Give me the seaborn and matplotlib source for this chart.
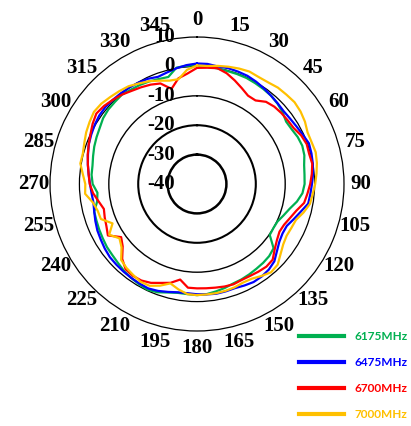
import numpy as np
import pandas as pd
import matplotlib
matplotlib.use("Agg")
import matplotlib.pyplot as plt
import matplotlib.transforms as mtransforms
from matplotlib.lines import Line2D
import seaborn as sns

# Measured radiation pattern (dB) every 5 degrees, 0..355
angles_deg = list(range(0, 360, 5))

gain_6175 = [0.3, 0.2, -0.1, -0.2, -0.2, -0.2, -0.4, -0.6, -0.8, -1.3,
             -2.0, -3.0, -2.8, -2.2, -1.9, -2.2, -3.0, -3.3, -3.4, -4.0,
             -5.5, -7.4, -8.7, -9.8, -10.0, -9.8, -6.0, -5.3, -5.0, -4.8,
             -4.5, -4.2, -4.0, -3.4, -2.9, -2.4, -2.2, -2.4, -2.4, -1.8,
             -0.8, -0.3, -0.6, -1.0, -1.4, -2.0, -2.4, -2.6, -3.0, -3.3,
             -3.6, -3.8, -5.5, -6.0, -4.5, -4.0, -3.9, -3.4, -2.8, -2.3,
             -1.8, -1.0, -0.6, -0.5, -0.3, -0.8, -1.1, -1.5, -2.0, -2.3,
             0.2, 0.4]

gain_6475 = [1.0, 1.0, 0.6, 0.8, 0.7, 0.6, 0.2, -0.3, -0.8, -1.2,
             -1.5, -1.3, -0.9, -0.3, 0.5, 0.3, 0.0, -0.4, -0.9, -1.3,
             -1.6, -3.5, -5.0, -6.3, -6.4, -5.8, -4.5, -2.8, -2.0, -1.6,
             -1.5, -1.9, -2.3, -2.2, -2.1, -2.3, -2.5, -2.7, -2.6, -2.0,
             -1.3, -0.8, -0.9, -1.0, -1.1, -1.2, -1.3, -1.7, -2.2, -2.6,
             -3.2, -3.8, -4.2, -4.0, -3.6, -3.0, -2.3, -1.6, -0.8, -0.3,
             0.2, 0.6, 0.7, 0.5, 0.3, 0.1, -0.2, -0.5, -1.2, -0.7,
             0.0, 0.6]

gain_6700 = [-0.5, -0.3, 0.0, -1.0, -2.5, -4.0, -5.3, -5.3, -3.5, -2.8,
             -2.5, -2.3, -2.0, -0.9, -0.3, -0.5, -0.2, -0.8, -1.5, -2.3,
             -3.0, -5.0, -6.3, -7.3, -7.6, -6.8, -5.5, -3.6, -3.3, -3.6,
             -3.9, -4.0, -3.7, -3.9, -4.2, -4.4, -4.5, -4.6, -7.0, -5.2,
             -4.2, -2.9, -2.1, -1.9, -2.2, -4.0, -7.0, -8.5, -5.0, -6.0,
             -6.6, -7.2, -6.0, -4.5, -3.5, -3.0, -2.3, -1.5, -0.8, 0.0,
             1.0, 1.8, 1.3, 0.5, -0.3, -1.3, -2.0, -2.7, -3.6, -6.5,
             -3.5, -2.3]

gain_7000 = [0.3, 0.3, 0.8, 1.3, 1.8, 2.2, 2.0, 2.2, 2.8, 3.0,
             3.3, 3.0, 2.4, 1.5, 1.5, 1.8, 1.4, 0.8, 0.2, -0.5,
             -1.0, -2.5, -4.2, -4.6, -4.8, -4.2, -2.9, -1.2, -0.8, -1.8,
             -2.8, -3.0, -2.6, -2.4, -2.3, -2.3, -2.2, -2.4, -3.6, -5.0,
             -3.2, -1.8, -1.6, -2.2, -2.7, -3.5, -6.5, -7.8, -5.5, -8.3,
             -5.2, -5.0, -4.0, -1.8, -2.0, -1.0, 0.3, 0.2, 0.8, 1.6,
             2.2, 2.8, 2.5, 1.8, 1.2, 0.6, -0.5, -1.4, -2.6, -3.6,
             -3.8, -1.0]

freq_labels = ["6175MHz", "6475MHz", "6700MHz", "7000MHz"]
line_colors = ["#00B050", "#0000FF", "#FF0000", "#FFC000"]
r_ticks = [-40, -30, -20, -10, 0, 10]
theta_ticks = list(range(0, 360, 15))

# Long-form table, each trace closed back on its first sample
rows = []
for label, gains in zip(freq_labels, [gain_6175, gain_6475, gain_6700, gain_7000]):
    for a, g in zip(angles_deg + [360], gains + gains[:1]):
        rows.append((np.deg2rad(a), g, label))
df = pd.DataFrame(rows, columns=["theta", "gain", "freq"])

fig = plt.figure(figsize=(4.11, 4.26), dpi=100)
ax = fig.add_axes([0.1217, 0.2230, 0.7153, 0.6901], projection="polar")
ax.set_theta_zero_location("N")
ax.set_theta_direction(-1)
ax.set_axisbelow(True)

sns.lineplot(data=df, x="theta", y="gain", hue="freq",
             palette=dict(zip(freq_labels, line_colors)),
             sort=False, estimator=None, linewidth=1.6, legend=False, ax=ax)

ax.set_ylim(r_ticks[0], r_ticks[-1])
ax.set_yticks(r_ticks[1:-1])
ax.set_yticklabels([])
ax.set_xlabel("")
ax.set_ylabel("")

ax.set_xticks(np.deg2rad(theta_ticks))
ax.set_xticklabels([str(t) for t in theta_ticks],
                   fontfamily="Liberation Serif", fontweight="bold", fontsize=15)
ax.tick_params(axis="x", pad=5, length=0)
ax.xaxis.grid(False)
ax.yaxis.grid(True, color="black")
for gl, lw in zip(ax.yaxis.get_gridlines(), [1.8, 1.5, 1.0, 0.9]):
    gl.set_linewidth(lw)
ax.spines["polar"].set_linewidth(0.9)
ax.spines["polar"].set_color("black")

# Radial scale labels stacked along the 0 degree direction
off = mtransforms.offset_copy(ax.transData, fig=fig, x=-22, y=0, units="dots")
for r in r_ticks:
    ax.text(0, r, str(r), transform=off, ha="right", va="center",
            fontfamily="Liberation Serif", fontweight="bold", fontsize=15,
            zorder=5)

handles = [Line2D([0], [0], color=c, lw=3) for c in line_colors]
fig.legend(handles, freq_labels, loc="upper left",
           bbox_to_anchor=(0.728, 0.222), frameon=False,
           prop={"family": "Lato", "weight": "bold", "size": 8.5},
           labelcolor=line_colors, handlelength=3.8, handletextpad=0.9,
           labelspacing=1.25, borderpad=0, borderaxespad=0)

fig.savefig("out.png", dpi=100)
